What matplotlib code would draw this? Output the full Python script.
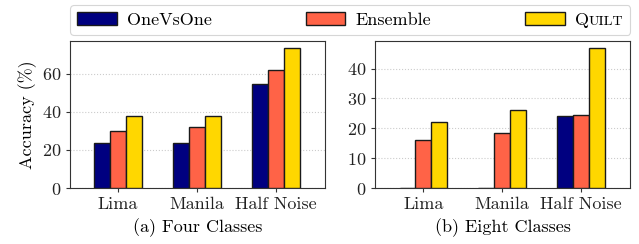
import matplotlib
matplotlib.use("Agg")
import matplotlib.pyplot as plt
from matplotlib.font_manager import FontProperties
import numpy as np

categories = ["Lima", "Manila", "Half Noise"]
methods = ["OneVsOne", "Ensemble", "QUILT"]
four_ovo = [23.5, 23.5, 54.4]
four_ens = [30.0, 32.1, 62.0]
four_quilt = [38.0, 38.0, 73.5]
eight_ovo = [0.0, 0.0, 24.1]
eight_ens = [16.1, 18.4, 24.6]
eight_quilt = [22.0, 26.0, 46.9]
titles = ["(a) Four Classes", "(b) Eight Classes"]
colors = ["#000080", "#FF6347", "#FFD700"]

FS = 13
LFS = 13
plt.rcParams.update({
    "font.family": "serif",
    "font.serif": ["cmr10"],
    "mathtext.fontset": "cm",
    "axes.formatter.use_mathtext": True,
    "font.size": FS,
})

fig = plt.figure(figsize=(6.39, 2.44), dpi=100)
ax1 = fig.add_axes([0.1095, 0.2295, 0.399, 0.6025])
ax2 = fig.add_axes([0.587, 0.2295, 0.399, 0.6025])

x = np.arange(len(categories))
w = 0.2
data = [(four_ovo, four_ens, four_quilt), (eight_ovo, eight_ens, eight_quilt)]
handles = None
for ax, series, title in zip([ax1, ax2], data, titles):
    hs = []
    for i, (vals, c, m) in enumerate(zip(series, colors, methods)):
        b = ax.bar(x + (i - 1) * w, vals, w, color=c, edgecolor="#1a1a1a",
                   linewidth=1.0, label=m, zorder=3)
        hs.append(b)
    handles = hs
    ax.set_xticks(x)
    ax.set_xticklabels(categories)
    ax.set_xlim(-0.61, 2.62)
    mx = max(max(s) for s in series)
    ax.set_ylim(0, mx * 1.05)
    ax.set_xlabel(title, labelpad=4)
    ax.yaxis.grid(True, linestyle=":", color="#cccccc", linewidth=0.8, zorder=0)
    ax.set_axisbelow(True)
    for s in ax.spines.values():
        s.set_color("#333333")
    ax.tick_params(axis="both", colors="#333333", labelcolor="#222222", pad=3.5, length=3)

ax1.set_yticks([0, 20, 40, 60])
ax2.set_yticks([0, 10, 20, 30, 40])
ax1.set_ylabel("Accuracy (%)", labelpad=3)

# small caps emulation for QUILT
SC = LFS * 0.78
renderer = fig.canvas.get_renderer()
def tw(s, size):
    w_, h_, d_ = renderer.get_text_width_height_descent(s, FontProperties(family="serif", size=size), ismath=False)
    return w_, d_
wq, _ = tw("Q", LFS)
wu, _ = tw("UILT", SC)
wfull, _ = tw("QUILT", LFS)
hidden_size = LFS * (wq + wu) / wfull

labels = ["OneVsOne", "Ensemble", "QUILT"]
leg = fig.legend(handles, labels, loc="upper left",
                 bbox_to_anchor=(0.1095, 0.5, 0.877, 0.4795), mode="expand",
                 ncol=3, frameon=True, handlelength=2.2, handleheight=0.7,
                 borderaxespad=0.0, fontsize=LFS, edgecolor="#cccccc",
                 fancybox=True, handletextpad=0.55, borderpad=0.4)
leg.get_frame().set_linewidth(0.8)
leg.get_texts()[2].set_fontsize(hidden_size)
leg.get_texts()[2].set_alpha(0)

fig.canvas.draw()
inv = fig.transFigure.inverted()
bb0 = leg.get_texts()[0].get_window_extent()
bb2 = leg.get_texts()[2].get_window_extent()
_, d12 = tw("lp", LFS)
base_px = bb0.y0 + d12
xq, yb = inv.transform((bb2.x0, base_px))
fig.text(xq, yb, "Q", fontsize=LFS, ha="left", va="baseline", zorder=20)
xu, _ = inv.transform((bb2.x0 + wq, base_px))
fig.text(xu, yb, "UILT", fontsize=SC, ha="left", va="baseline", zorder=20)

fig.savefig("out.png", dpi=100)
